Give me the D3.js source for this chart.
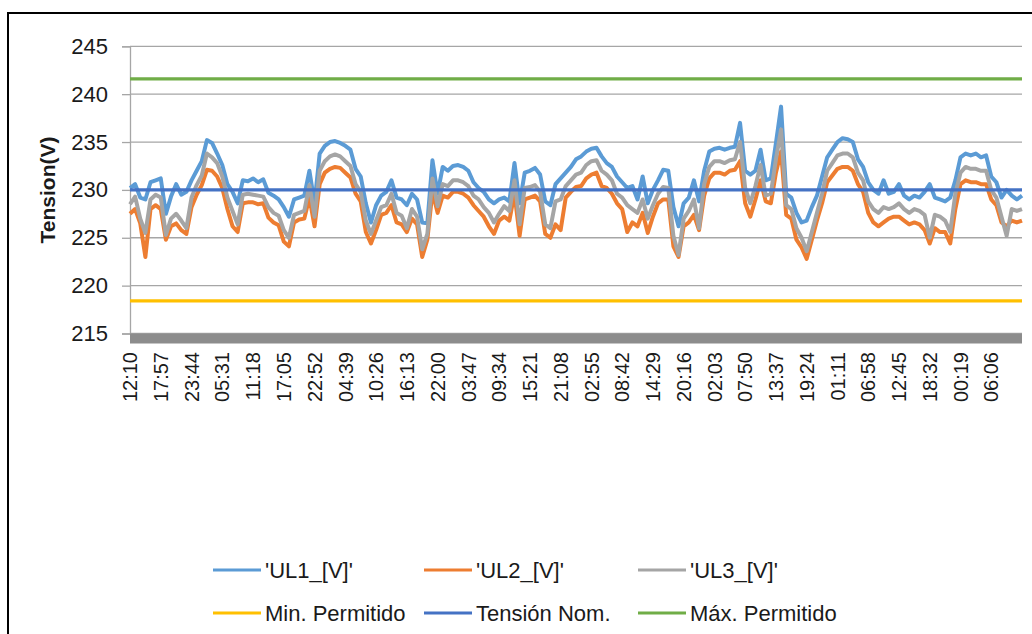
<!DOCTYPE html>
<html lang="es">
<head>
    <meta charset="UTF-8">
    <title>Tension</title>
    <script src="https://d3js.org/d3.v7.min.js"></script>
    <style>
        body { margin: 0; background: #fff; }
        svg { display: block; font-family: "Liberation Sans", Arial, sans-serif; }
    </style>
</head>
<body>
    <div id="chart"></div>
    <script>
        // tick labels on the category axis (one every 6 samples)
        const times = ["12:10","17:57","23:44","05:31","11:18","17:05","22:52","04:39","10:26","16:13",
            "22:00","03:47","09:34","15:21","21:08","02:55","08:42","14:29","20:16","02:03",
            "07:50","13:37","19:24","01:11","06:58","12:45","18:32","00:19","06:06"];
        const samplesPerLabel = 6;

        const yTicks = [215, 220, 225, 230, 235, 240, 245];

        const minPermitido = 218.4;
        const tensionNom = 230;
        const maxPermitido = 241.6;

        const ul1 = [
            230.2,230.6,229.2,229.0,230.8,231.0,
            231.2,227.5,229.3,230.6,229.5,229.8,
            231.0,232.0,233.0,235.2,234.9,233.8,
            232.6,230.6,229.8,228.6,231.0,230.9,
            231.2,230.8,231.1,229.7,229.4,229.0,
            228.2,227.2,229.0,229.2,229.4,232.0,
            228.6,233.8,234.6,235.0,235.1,234.9,
            234.6,234.2,232.2,231.4,228.6,226.6,
            228.4,229.4,229.8,231.0,229.2,229.0,
            228.4,229.6,229.0,226.6,226.5,233.1,
            229.6,232.4,232.0,232.5,232.6,232.4,
            232.0,230.8,230.2,229.8,229.0,228.6,
            229.0,229.2,228.8,232.8,228.6,231.8,
            232.0,232.3,231.6,228.8,228.4,230.6,
            231.2,231.8,232.4,233.2,233.5,234.0,
            234.3,234.4,233.5,232.8,232.4,231.4,
            230.8,230.2,230.4,229.0,231.4,228.6,
            230.0,231.0,232.1,232.0,228.2,226.2,
            228.6,229.2,231.0,228.8,232.0,234.0,
            234.3,234.4,234.2,234.4,234.5,237.0,
            232.0,231.6,232.0,234.2,231.0,231.2,
            234.9,238.7,229.6,229.2,227.6,226.6,
            226.8,228.2,229.4,231.4,233.4,234.2,
            235.0,235.4,235.3,235.0,233.2,232.4,
            230.8,230.0,229.6,231.0,229.6,229.8,
            230.6,229.4,229.0,229.4,229.2,229.8,
            230.6,229.2,229.0,228.8,229.2,231.0,
            233.4,233.8,233.6,233.8,233.4,233.6,
            231.4,230.8,229.2,230.0,229.4,229.0,229.4
        ];

        const ul2 = [
            227.5,228.0,226.5,223.0,228.0,228.4,
            228.0,224.8,226.2,226.5,225.8,225.4,
            228.2,229.5,230.5,232.1,232.0,231.4,
            230.2,228.0,226.2,225.6,228.6,228.7,
            228.7,228.5,228.6,227.1,226.6,226.3,
            224.6,224.1,226.6,226.9,227.0,229.2,
            226.2,230.6,231.8,232.2,232.4,232.3,
            231.8,231.3,229.6,228.8,225.6,224.4,
            225.8,227.4,227.6,228.4,226.6,226.4,
            225.6,227.0,226.4,223.0,224.8,229.8,
            227.6,229.4,229.2,229.8,229.8,229.6,
            229.2,228.4,227.8,227.2,226.2,225.4,
            226.8,227.2,226.8,229.6,225.2,229.0,
            229.2,229.4,228.8,225.4,225.0,226.4,
            225.8,229.2,229.8,230.3,230.4,231.2,
            231.6,231.8,230.4,230.2,229.6,228.6,
            228.0,225.6,226.6,226.2,227.6,225.5,
            227.2,228.6,229.0,229.0,224.1,223.0,
            226.2,226.6,227.4,225.8,229.4,231.2,
            231.8,231.8,231.6,232.0,232.1,233.0,
            228.6,227.2,229.0,231.0,228.8,228.6,
            231.8,234.0,227.4,227.0,224.8,224.0,
            222.8,224.8,226.8,228.6,230.8,231.5,
            232.2,232.4,232.4,232.0,230.6,229.8,
            227.6,226.6,226.2,226.6,227.0,227.2,
            227.2,226.8,226.4,226.6,226.4,225.8,
            224.4,226.0,225.6,225.6,224.4,228.0,
            230.6,231.0,230.8,230.8,230.6,230.6,
            229.0,228.4,226.6,226.2,226.8,226.6,226.8
        ];

        const ul3 = [
            228.5,229.3,227.0,225.5,229.0,229.5,
            229.2,225.3,227.0,227.5,226.8,226.0,
            229.2,230.5,231.5,233.8,233.4,232.8,
            231.4,229.2,227.8,226.4,229.5,229.6,
            229.5,229.4,229.3,228.2,227.6,227.3,
            225.8,225.0,227.4,227.6,227.8,230.5,
            227.2,232.0,233.0,233.5,233.7,233.5,
            233.0,232.5,230.6,229.8,226.8,225.4,
            226.8,228.2,228.4,229.6,227.6,227.3,
            226.0,228.0,227.2,223.8,225.4,231.2,
            228.3,230.6,230.4,231.0,231.0,230.8,
            230.4,229.4,229.0,228.2,227.6,226.6,
            227.5,228.3,227.8,231.0,226.4,230.2,
            230.3,230.5,229.8,226.4,226.0,228.8,
            229.0,230.4,231.0,231.6,231.8,232.6,
            233.0,233.1,232.0,231.6,231.0,229.6,
            229.2,228.4,228.0,227.6,229.0,227.0,
            228.4,229.6,230.3,230.2,225.2,223.2,
            227.0,227.8,229.0,226.0,230.6,232.4,
            233.0,233.0,232.8,233.1,233.2,235.0,
            230.2,228.6,230.4,232.6,229.4,229.6,
            233.2,236.3,228.4,228.0,226.0,225.0,
            223.6,225.6,227.6,229.6,232.0,232.8,
            233.6,233.8,233.8,233.4,231.8,231.0,
            228.8,228.0,227.6,228.2,228.0,228.2,
            228.6,228.0,227.6,228.0,227.8,227.4,
            225.0,227.4,227.2,226.8,225.6,229.6,
            231.8,232.4,232.2,232.2,232.0,232.0,
            230.0,229.2,227.2,225.2,228.0,227.8,228.0
        ];

        const width = 1032;
        const height = 634;
        const plot = { left: 130, right: 1022, top: 46.3, bottom: 333.5 };

        const svg = d3.select("#chart").append("svg")
            .attr("width", width)
            .attr("height", height)
            .attr("viewBox", [0, 0, width, height]);

        // outer frame (right and bottom edges fall outside the picture)
        svg.append("rect")
            .attr("x", 8).attr("y", 13)
            .attr("width", 1060).attr("height", 700)
            .attr("fill", "none")
            .attr("stroke", "#000")
            .attr("stroke-width", 2);

        const x = d3.scaleLinear()
            .domain([0, ul1.length - 1])
            .range([plot.left, plot.right]);

        const y = d3.scaleLinear()
            .domain([215, 245])
            .range([plot.bottom, plot.top]);

        // gridlines
        svg.append("g")
            .selectAll("line")
            .data(yTicks)
            .join("line")
            .attr("x1", plot.left).attr("x2", plot.right)
            .attr("y1", d => y(d)).attr("y2", d => y(d))
            .attr("stroke", "#a6a6a6")
            .attr("stroke-width", 1.3);

        // y axis
        const yAxis = svg.append("g")
            .attr("transform", `translate(${plot.left},0)`)
            .call(d3.axisLeft(y).tickValues(yTicks).tickSize(8).tickPadding(14));
        yAxis.select(".domain").attr("stroke", "#a6a6a6").attr("stroke-width", 1.3);
        yAxis.selectAll(".tick line").attr("stroke", "#a6a6a6").attr("stroke-width", 1.3);
        yAxis.selectAll("text")
            .attr("font-size", 22)
            .attr("fill", "#1a1a1a")
            .attr("font-family", "Liberation Sans, Arial, sans-serif");

        svg.append("text")
            .attr("transform", `translate(55,190) rotate(-90)`)
            .attr("text-anchor", "middle")
            .attr("font-size", 21)
            .attr("font-weight", "bold")
            .attr("fill", "#1a1a1a")
            .text("Tension(V)");

        // thick grey band along the category axis
        svg.append("rect")
            .attr("x", plot.left)
            .attr("y", plot.bottom)
            .attr("width", plot.right - plot.left)
            .attr("height", 10)
            .attr("fill", "#8c8c8c");

        // x labels
        svg.append("g")
            .selectAll("text")
            .data(times)
            .join("text")
            .attr("transform", (d, i) => `translate(${x(i * samplesPerLabel)},352) rotate(-90)`)
            .attr("text-anchor", "end")
            .attr("dy", "0.36em")
            .attr("font-size", 20)
            .attr("fill", "#1a1a1a")
            .text(d => d);

        const series = [
            { name: "'UL1_[V]'", values: ul1, color: "#5b9bd5" },
            { name: "'UL2_[V]'", values: ul2, color: "#ed7d31" },
            { name: "'UL3_[V]'", values: ul3, color: "#a5a5a5" }
        ];

        const line = d3.line()
            .x((d, i) => x(i))
            .y(d => y(d));

        svg.append("g")
            .selectAll("path")
            .data(series)
            .join("path")
            .attr("d", d => line(d.values))
            .attr("fill", "none")
            .attr("stroke", d => d.color)
            .attr("stroke-width", 4)
            .attr("stroke-linejoin", "round");

        const limits = [
            { name: "Min. Permitido", value: minPermitido, color: "#ffc000" },
            { name: "Tensión Nom.", value: tensionNom, color: "#4472c4" },
            { name: "Máx. Permitido", value: maxPermitido, color: "#70ad47" }
        ];

        svg.append("g")
            .selectAll("line")
            .data(limits)
            .join("line")
            .attr("x1", x(0)).attr("x2", x(ul1.length - 1))
            .attr("y1", d => y(d.value)).attr("y2", d => y(d.value))
            .attr("stroke", d => d.color)
            .attr("stroke-width", 3.2);

        // legend, two rows of three
        const legendItems = series.concat(limits);
        const colX = [213, 424, 638];
        const rowY = [570, 613];

        const item = svg.append("g")
            .selectAll("g")
            .data(legendItems)
            .join("g")
            .attr("transform", (d, i) => `translate(${colX[i % 3]},${rowY[Math.floor(i / 3)]})`);

        item.append("line")
            .attr("x1", 0).attr("x2", 48)
            .attr("stroke", d => d.color)
            .attr("stroke-width", 3.2);

        item.append("text")
            .attr("x", 52)
            .attr("dy", "0.36em")
            .attr("font-size", 22)
            .attr("fill", "#1a1a1a")
            .text(d => d.name);
    </script>
</body>
</html>
